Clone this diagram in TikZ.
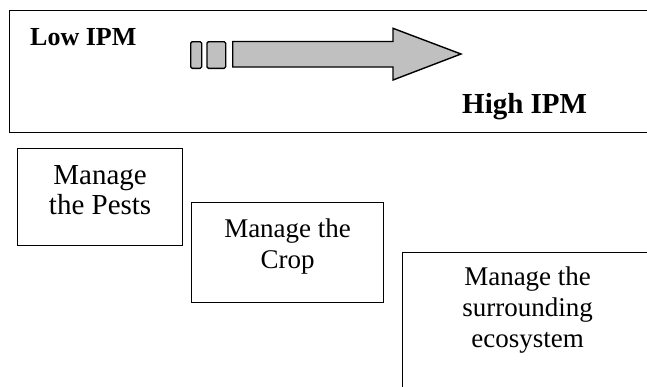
\documentclass[tikz,border=0pt]{standalone}
\usepackage{fontspec}
\setmainfont{Liberation Serif}
\usetikzlibrary{positioning}
\definecolor{arrowgray}{RGB}{192,192,192}
\begin{document}
\begin{tikzpicture}[x=1pt,y=-1pt,
	box/.style={draw,line width=1.2pt,inner sep=0pt,anchor=north west},
	boxtext/.style={inner sep=0pt,anchor=north,align=center,font=\fontsize{27}{31}\selectfont},
	ipm/.style={inner sep=0pt,anchor=base west,font=\bfseries\fontsize{26}{30}\selectfont},
	bar/.style={draw,line width=1.4pt,fill=arrowgray,rounded corners=1.5pt}]
	\useasboundingbox (0,0) rectangle (647,386);
	\clip (0,0) rectangle (647,386);
	% top frame with the IPM scale
	\node[box,line width=1.4pt,minimum width=660pt,minimum height=122pt] (frame) at (8.5,10) {};
	\node[ipm] (low) at (30,45) {Low IPM};
	\node[ipm,font=\bfseries\fontsize{29}{33}\selectfont] (high) at (462,113) {High IPM};
	\draw[bar] (190.7,41.7) rectangle (201.7,68.3);
	\draw[bar] (207,41.7) rectangle (225.7,68.3);
	\draw[bar,rounded corners=0pt] (232.7,41.5) -- (393,41.5) -- (393,28.3) -- (461,54)
		-- (393,80) -- (393,67) -- (232.7,67) -- cycle;
	% the three steps
	\node[box,minimum width=165pt,minimum height=97pt] (pests) at (17,148) {};
	\node[boxtext,font=\fontsize{29}{30}\selectfont] (pestsT) at ([yshift=-17.8pt]pests.north) {Manage\\the Pests};
	\node[box,minimum width=192pt,minimum height=100pt] (crop) at (191,202) {};
	\node[boxtext] (cropT) at ([yshift=-17pt]crop.north) {Manage the\\Crop};
	\node[box,minimum width=250pt,minimum height=160pt] (eco) at (402,252) {};
	\node[boxtext] (ecoT) at ([yshift=-14.6pt]eco.north) {Manage the\\surrounding\\ecosystem};
\end{tikzpicture}
\end{document}
